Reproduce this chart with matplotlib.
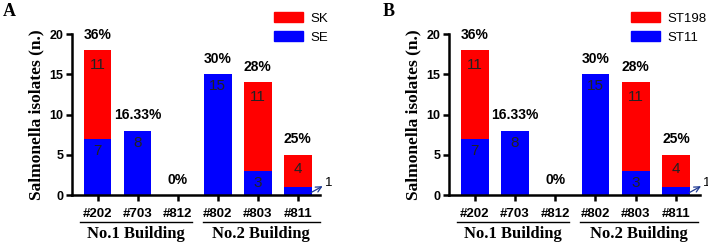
import matplotlib
matplotlib.use('Agg')
import matplotlib.pyplot as plt
from matplotlib.patches import Patch

rooms = ['#202', '#703', '#812', '#802', '#803', '#811']
low_vals = [7, 8, 0, 15, 3, 1]      # blue segment (SE / ST11)
high_vals = [11, 0, 0, 0, 11, 4]    # red segment (SK / ST198)
pct_labels = ['36%', '16.33%', '0%', '30%', '28%', '25%']
buildings = ['No.1 Building', 'No.2 Building']
panels = [('A', 'SK', 'SE'), ('B', 'ST198', 'ST11')]

RED = '#FF0000'
BLUE = '#0000FF'
SANS = 'Liberation Sans'
SERIF = 'Liberation Serif'

fig = plt.figure(figsize=(7.08, 2.45), dpi=100)
ax_pos = [[0.1017, 0.204, 0.350, 0.657], [0.634, 0.204, 0.355, 0.657]]
letter_x = [0.004, 0.540]
leg_x = [0.370, 0.874]

for i, (letter, red_name, blue_name) in enumerate(panels):
    ax = fig.add_axes(ax_pos[i])
    x = list(range(len(rooms)))
    ax.bar(x, low_vals, width=0.69, color=BLUE, zorder=2)
    ax.bar(x, high_vals, bottom=low_vals, width=0.69, color=RED, zorder=2)

    ax.set_xlim(-0.64, 5.55 if i == 0 else 5.6)
    ax.set_ylim(0, 20)
    ax.set_yticks([0, 5, 10, 15, 20])
    for s in ['top', 'right']:
        ax.spines[s].set_visible(False)
    for s in ['left', 'bottom']:
        ax.spines[s].set_linewidth(1.8)
    ax.tick_params(width=1.8, length=4)
    ax.tick_params(axis='x', labelsize=9.5, pad=5)
    ax.tick_params(axis='y', labelsize=9, pad=2)
    ax.set_xticks(x)
    ax.set_xticklabels(rooms)
    for lab in ax.get_xticklabels() + ax.get_yticklabels():
        lab.set_fontfamily(SANS)
        lab.set_fontweight('bold')

    ax.set_ylabel('Salmonella isolates (n.)', fontfamily=SERIF,
                  fontweight='bold', fontsize=12.5, labelpad=4)

    # values inside segments
    for xi, lo, hi in zip(x, low_vals, high_vals):
        if lo > 1:
            ax.text(xi, lo - 1.5, str(lo), ha='center', va='center',
                    fontfamily=SANS, fontsize=11, color='#222222', zorder=3)
        if hi > 0:
            ax.text(xi, lo + hi - 1.8, str(hi), ha='center', va='center',
                    fontfamily=SANS, fontsize=11, color='#222222', zorder=3)
        top = lo + hi
        ax.text(xi, top + 1.9, pct_labels[xi], ha='center', va='center',
                fontfamily=SANS, fontweight='bold', fontsize=10, clip_on=False)

    # arrow for the single isolate in #811
    ax.annotate('', xy=(5.62, 1.1), xytext=(5.33, 0.3), annotation_clip=False,
                arrowprops=dict(arrowstyle='->', color='#1f3a93', lw=0.9,
                                shrinkA=0, shrinkB=0))
    ax.text(5.67, 1.5, '1', ha='left', va='center', fontfamily=SANS,
            fontsize=9.5, clip_on=False)

    # building brackets
    trans = ax.get_xaxis_transform()
    groups = [(-0.43, 2.35), (2.62, 5.55)]
    for (x0, x1), name in zip(groups, buildings):
        ax.plot([x0, x1], [-0.168, -0.168], color='black', lw=1.0,
                transform=trans, clip_on=False)
        ax.text((x0 + x1) / 2, -0.245, name, transform=trans, ha='center',
                va='center', fontfamily=SERIF, fontweight='bold', fontsize=12)

    fig.text(letter_x[i], 0.955, letter, fontfamily=SERIF, fontweight='bold',
             fontsize=13, va='center', ha='left')

    handles = [Patch(color=RED, label=red_name), Patch(color=BLUE, label=blue_name)]
    fig.legend(handles=handles, loc='upper left', bbox_to_anchor=(leg_x[i], 1.0),
               frameon=False, prop={'family': SANS, 'size': 9.5},
               handlelength=2.2, handleheight=0.8, labelspacing=0.5,
               handletextpad=0.6)

fig.savefig('out.png', dpi=100)
